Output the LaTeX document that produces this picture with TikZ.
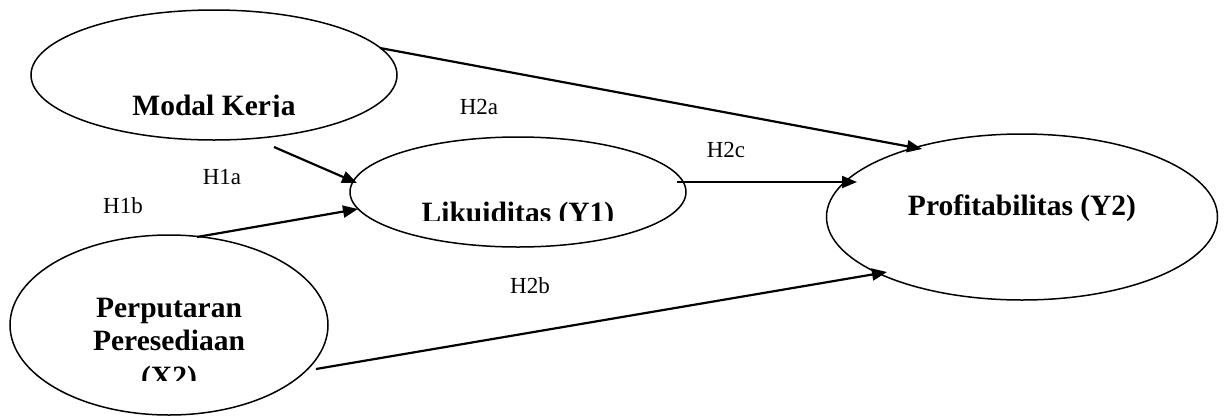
\documentclass[tikz,border=0pt]{standalone}
\usepackage{fontspec}
\setmainfont{Liberation Serif}
\usetikzlibrary{shapes.geometric,arrows.meta}
\begin{document}
\begin{tikzpicture}[x=1pt,y=-1pt,
  latent/.style={draw,ellipse,line width=1.5pt,inner sep=0pt},
  path/.style={line width=2.2pt,-{Triangle[length=15pt,width=12pt]}},
  hyp/.style={font=\fontsize{23}{27}\selectfont,inner sep=0pt},
  ttl/.style={font=\fontsize{29.5}{34}\selectfont\bfseries,inner sep=0pt,anchor=base}]
\useasboundingbox (0,0) rectangle (1227,416);
% ellipses
\node[latent,minimum width=366pt,minimum height=130pt] (mk) at (214,75) {};
\node[latent,minimum width=336pt,minimum height=110pt] (li) at (518,192) {};
\node[latent,minimum width=318pt,minimum height=180pt] (pp) at (169,325) {};
\node[latent,minimum width=391pt,minimum height=166pt] (pf) at (1022,217) {};
% titles (clipped as in the reference)
\begin{scope}
\clip (0,0) rectangle (1227,116.5);
\node[ttl] (tmk) at (214,115) {Modal Kerja};
\end{scope}
\begin{scope}
\clip (0,0) rectangle (1227,220);
\node[ttl] (tli) at (518,222) {Likuiditas (Y1)};
\end{scope}
\begin{scope}
\clip (0,0) rectangle (1227,380);
\node[ttl] (tpp1) at (169,317) {Perputaran};
\node[ttl] (tpp2) at (169,350) {Peresediaan};
\node[ttl] (tpp3) at (169,386) {(X2)};
\end{scope}
\node[ttl] (tpf) at (1022,215) {Profitabilitas (Y2)};
% connector end points
\coordinate (a1) at (380,48);
\coordinate (a2) at (922,149);
\coordinate (b1) at (274,147);
\coordinate (b2) at (357,183);
\coordinate (c1) at (197,237);
\coordinate (c2) at (358,209);
\coordinate (d1) at (677,182);
\coordinate (d2) at (857,182);
\coordinate (e1) at (316,369);
\coordinate (e2) at (887,272);
\draw[path] (a1) -- (a2);
\draw[path] (b1) -- (b2);
\draw[path] (c1) -- (c2);
\draw[path] (d1) -- (d2);
\draw[path] (e1) -- (e2);
% hypothesis labels
\node[hyp] (h2a) at (479,107) {H2a};
\node[hyp] (h1a) at (222,177) {H1a};
\node[hyp] (h1b) at (123,206) {H1b};
\node[hyp] (h2c) at (726,150) {H2c};
\node[hyp] (h2b) at (530,286) {H2b};
\end{tikzpicture}
\end{document}
